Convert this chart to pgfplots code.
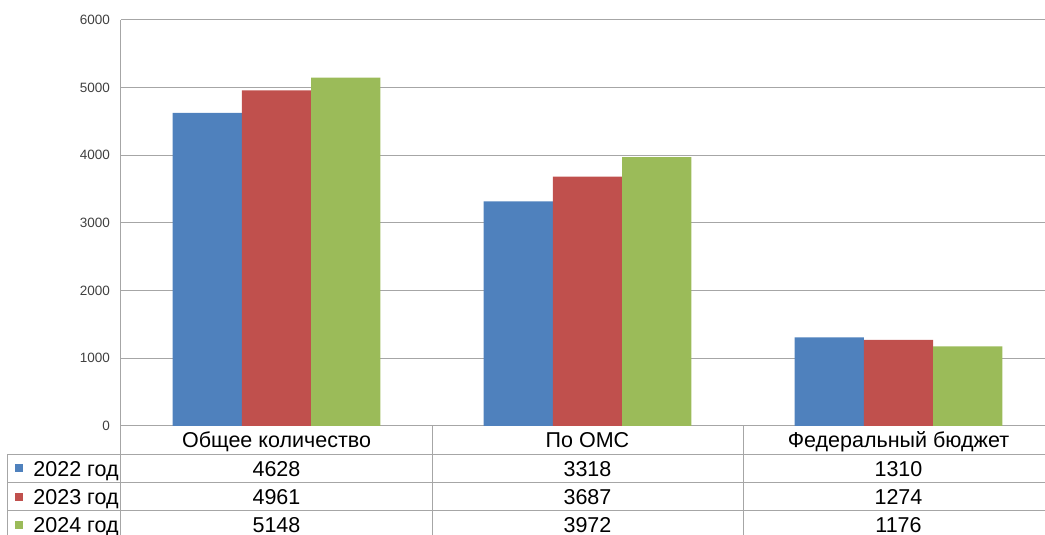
\documentclass[border=0pt]{standalone}
\usepackage{pgfplots}
\pgfplotsset{compat=1.18}
\usepackage{fontspec}
\setmainfont{Liberation Sans}
\definecolor{cblue}{HTML}{4F81BD}
\definecolor{cred}{HTML}{C0504D}
\definecolor{cgreen}{HTML}{9BBB59}
\definecolor{gridc}{HTML}{A6A6A6}
\begin{document}
\begin{tikzpicture}[x=0.5pt,y=0.5pt]
\useasboundingbox (-121,-109) rectangle (924,426);
\begin{axis}[
 at={(0,0)}, anchor=south west,
 scale only axis, width=462pt, height=203pt,
 xmin=-0.5, xmax=2.4711, ymin=0, ymax=6000,
 ytick={0,1000,...,6000},
 xtick=\empty,
 ymajorgrids, grid style={gridc, line width=0.5pt},
 axis x line*=bottom, axis y line*=left,
 axis line style={gridc, line width=0.5pt, -},
 major tick length=0pt,
 ticklabel style={font=\fontsize{6.75}{8}\selectfont, text=black!75},
 /pgf/number format/assume math mode=true,
 /pgf/number format/1000 sep={},
 yticklabel style={xshift=-2pt},
 ybar=0pt, bar width=0.2228,
 clip=false,
]
\addplot[fill=cblue, draw=none, bar shift=-0.2228] coordinates {(0,4628) (1,3318) (2,1310)};
\addplot[fill=cred, draw=none, bar shift=0] coordinates {(0,4961) (1,3687) (2,1274)};
\addplot[fill=cgreen, draw=none, bar shift=0.2228] coordinates {(0,5148) (1,3972) (2,1176)};
\end{axis}
% data table
\begin{scope}[gridc, line width=0.5pt]
\draw (0,0) -- (0,-115);
\draw (311,0) -- (311,-115);
\draw (622,0) -- (622,-115);
\draw (-113.5,-115) -- (-113.5,-29) -- (930,-29);
\draw (-113.5,-57) -- (930,-57);
\draw (-113.5,-85) -- (930,-85);
\end{scope}
\fill[cblue] (-106,-46.5) rectangle ++(8,8);
\fill[cred] (-106,-75) rectangle ++(8,8);
\fill[cgreen] (-106,-103) rectangle ++(8,8);
\begin{scope}[every node/.style={inner sep=0pt, font=\fontsize{10.75}{12}\selectfont}]
\node[anchor=base west] at (-88,-50.2) {2022 год};
\node[anchor=base west] at (-88,-78.7) {2023 год};
\node[anchor=base west] at (-88,-106.7) {2024 год};
\node[anchor=base] at (155.5,-21.7) {Общее количество};
\node[anchor=base] at (466.5,-21.7) {По ОМС};
\node[anchor=base] at (777.5,-21.7) {Федеральный бюджет};
\node[anchor=base] at (155.5,-50.2) {4628};
\node[anchor=base] at (466.5,-50.2) {3318};
\node[anchor=base] at (777.5,-50.2) {1310};
\node[anchor=base] at (155.5,-78.7) {4961};
\node[anchor=base] at (466.5,-78.7) {3687};
\node[anchor=base] at (777.5,-78.7) {1274};
\node[anchor=base] at (155.5,-106.7) {5148};
\node[anchor=base] at (466.5,-106.7) {3972};
\node[anchor=base] at (777.5,-106.7) {1176};
\end{scope}
\end{tikzpicture}
\end{document}
